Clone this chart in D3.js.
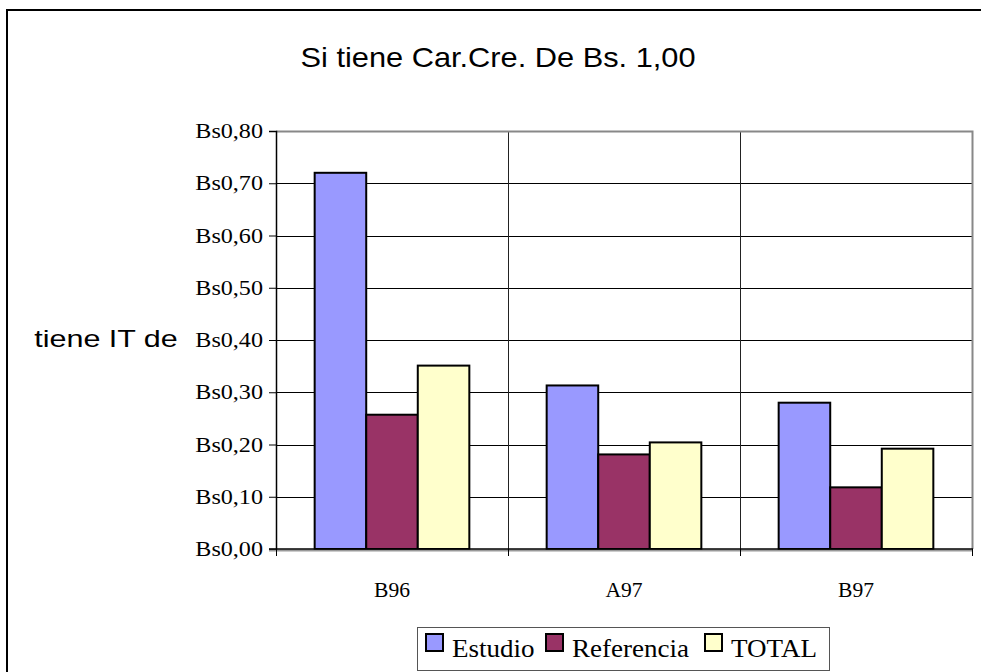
<!DOCTYPE html>
<html>
<head>
<meta charset="utf-8">
<script src="https://cdn.jsdelivr.net/npm/d3@7"></script>
<style>
  html, body { margin: 0; padding: 0; background: #fff; overflow: hidden; }
  svg { display: block; }
</style>
</head>
<body>
<div id="chart"></div>
<script>
// data
var categories = ["B96", "A97", "B97"];
var series = ["Estudio", "Referencia", "TOTAL"];
var estudio = [0.72, 0.313, 0.28];
var referencia = [0.257, 0.181, 0.118];
var total = [0.351, 0.204, 0.192];
var yTicks = [0, 0.1, 0.2, 0.3, 0.4, 0.5, 0.6, 0.7, 0.8];
var colors = ["#9999ff", "#993366", "#ffffcc"];

var W = 981, H = 672;
var plot = {left: 276, right: 972, top: 131, bottom: 549};

var svg = d3.select("#chart")
  .append("svg")
    .attr("width", W)
    .attr("height", H);

svg.append("rect")
  .attr("width", W).attr("height", H)
  .attr("fill", "#fff");

// outer chart border (cut off at right and bottom)
svg.append("path")
  .attr("d", "M" + W + ",10H7V" + H)
  .attr("fill", "none")
  .attr("stroke", "#000")
  .attr("stroke-width", 2);

// helper: text stretched horizontally like the original
function label(txt, x, y, size, family, sx, anchor) {
  return svg.append("text")
    .attr("transform", "translate(" + x + "," + y + ") scale(" + sx + ",1)")
    .attr("text-anchor", anchor || "middle")
    .style("font-family", family)
    .style("font-size", size + "px")
    .attr("fill", "#000")
    .text(txt);
}

// title
label("Si tiene Car.Cre. De Bs. 1,00", 498, 67, 27, "Liberation Sans, Arial, sans-serif", 1.14);

// y axis title
label("tiene IT de", 106, 347, 24, "Liberation Sans, Arial, sans-serif", 1.27);

var x0 = d3.scaleBand()
  .domain(categories)
  .range([plot.left, plot.right]);

var bw = x0.bandwidth();
var x1 = d3.scaleBand()
  .domain(series)
  .range([bw * 0.75 / 4.5, bw - bw * 0.75 / 4.5]);

var y = d3.scaleLinear()
  .domain([0, 0.8])
  .range([plot.bottom, plot.top]);

var fmt = function(d) { return "Bs" + d3.format(".2f")(d).replace(".", ","); };

// horizontal gridlines
svg.append("g")
  .selectAll("line")
  .data(yTicks.filter(function(d) { return d > 0 && d < 0.8; }))
  .enter()
  .append("line")
    .attr("x1", plot.left).attr("x2", plot.right)
    .attr("y1", function(d) { return Math.round(y(d)) + 0.5; })
    .attr("y2", function(d) { return Math.round(y(d)) + 0.5; })
    .attr("stroke", "#000")
    .attr("stroke-width", 1);

// vertical dividers between categories
svg.append("g")
  .selectAll("line")
  .data(categories.slice(1))
  .enter()
  .append("line")
    .attr("x1", function(d) { return Math.round(x0(d)) + 0.5; })
    .attr("x2", function(d) { return Math.round(x0(d)) + 0.5; })
    .attr("y1", plot.top).attr("y2", plot.bottom)
    .attr("stroke", "#222")
    .attr("stroke-width", 1);

// plot frame top and right (grey)
svg.append("path")
  .attr("d", "M" + plot.left + "," + (plot.top + 0.5) + "H" + (plot.right + 0.5) + "V" + plot.bottom)
  .attr("fill", "none")
  .attr("stroke", "#888")
  .attr("stroke-width", 2);

// bars
var rows = categories.map(function(c, i) {
  return {cat: c, vals: [estudio[i], referencia[i], total[i]]};
});

svg.append("g")
  .selectAll("g")
  .data(rows)
  .enter()
  .append("g")
    .attr("transform", function(d) { return "translate(" + x0(d.cat) + ",0)"; })
  .selectAll("rect")
  .data(function(d) { return d.vals.map(function(v, j) { return {s: series[j], v: v, j: j}; }); })
  .enter()
  .append("rect")
    .attr("x", function(d) { return x1(d.s); })
    .attr("y", function(d) { return y(d.v); })
    .attr("width", x1.bandwidth())
    .attr("height", function(d) { return y(0) - y(d.v); })
    .attr("fill", function(d) { return colors[d.j]; })
    .attr("stroke", "#000")
    .attr("stroke-width", 2);

// y axis
var yAxis = svg.append("g")
  .attr("transform", "translate(" + plot.left + ",0)")
  .call(d3.axisLeft(y).tickValues(yTicks).tickSize(7).tickFormat(""));
yAxis.select(".domain").attr("stroke", "#000").attr("stroke-width", 1.5);
yAxis.selectAll(".tick line").attr("stroke", "#000");

yTicks.forEach(function(t) {
  label(fmt(t), 263, y(t) + 7, 21, "Liberation Serif, Times New Roman, serif", 1.15, "end");
});

// x axis
svg.append("line")
  .attr("x1", plot.left - 7).attr("x2", plot.right + 1)
  .attr("y1", plot.bottom + 1.5).attr("y2", plot.bottom + 1.5)
  .attr("stroke", "#999").attr("stroke-width", 2);
svg.append("line")
  .attr("x1", plot.left - 7).attr("x2", plot.right + 1)
  .attr("y1", plot.bottom).attr("y2", plot.bottom)
  .attr("stroke", "#000").attr("stroke-width", 1.5);

var edges = categories.map(function(c) { return x0(c); }).concat([plot.right]);
svg.append("g")
  .selectAll("line")
  .data(edges)
  .enter()
  .append("line")
    .attr("x1", function(d) { return Math.round(d) + 0.5; })
    .attr("x2", function(d) { return Math.round(d) + 0.5; })
    .attr("y1", plot.bottom).attr("y2", plot.bottom + 7)
    .attr("stroke", "#000");

categories.forEach(function(c) {
  label(c, x0(c) + bw / 2, 597, 20, "Liberation Serif, Times New Roman, serif", 1.08);
});

// legend
var lg = svg.append("g");
lg.append("rect")
  .attr("x", 417.5).attr("y", 627.5)
  .attr("width", 412).attr("height", 43)
  .attr("fill", "#fff")
  .attr("stroke", "#555");

var legX = [426, 546, 705];
series.forEach(function(s, i) {
  lg.append("rect")
    .attr("x", legX[i]).attr("y", 634)
    .attr("width", 17).attr("height", 17)
    .attr("fill", colors[i])
    .attr("stroke", "#000")
    .attr("stroke-width", 2);
  lg.append("text")
    .attr("transform", "translate(" + (legX[i] + 26) + ",657) scale(1.04,1)")
    .style("font-family", "Liberation Serif, Times New Roman, serif")
    .style("font-size", "26px")
    .text(s);
});

// keep the strip right of the plot clean
svg.append("rect")
  .attr("x", plot.right + 2).attr("y", 12)
  .attr("width", W - plot.right).attr("height", H - 12)
  .attr("fill", "#fff");
svg.append("line")
  .attr("x1", plot.right + 0.5).attr("x2", plot.right + 0.5)
  .attr("y1", plot.bottom).attr("y2", plot.bottom + 7)
  .attr("stroke", "#000");
</script>
</body>
</html>
